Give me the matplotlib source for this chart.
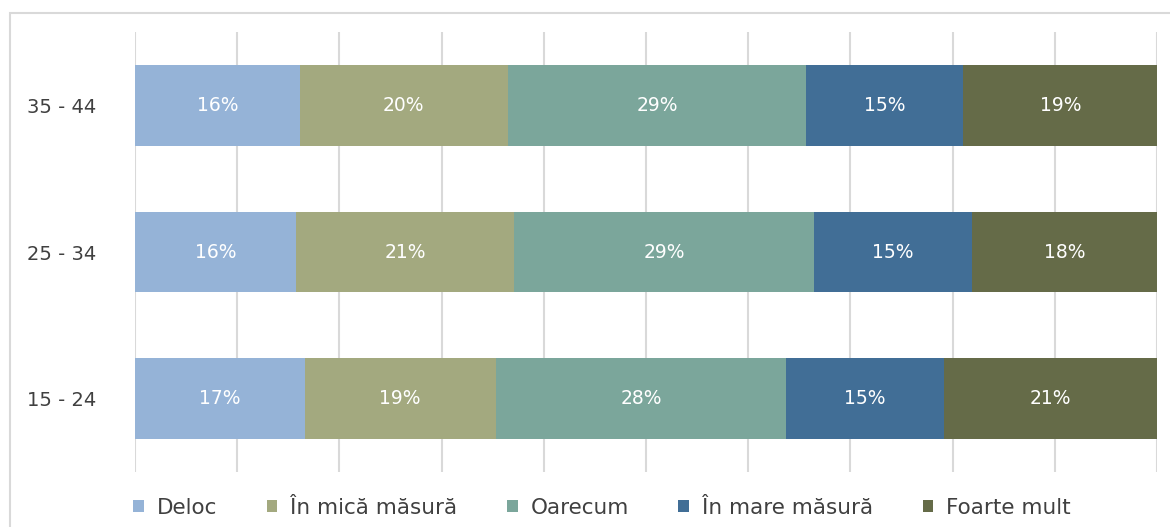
import numpy as np
import matplotlib
matplotlib.use("Agg")
import matplotlib.pyplot as plt
from matplotlib.patches import Rectangle

# grupe de varsta (de jos in sus) si raspunsuri, in procente
age_groups = ['15 - 24', '25 - 34', '35 - 44']
answers = ['Deloc', 'În mică măsură', 'Oarecum', 'În mare măsură', 'Foarte mult']

deloc = [16.6, 15.8, 16.1]
mica = [18.7, 21.3, 20.4]
oarecum = [28.4, 29.3, 29.2]
mare = [15.5, 15.5, 15.3]
foarte = [20.8, 18.2, 19.1]

labels_deloc = ['17%', '16%', '16%']
labels_mica = ['19%', '21%', '20%']
labels_oarecum = ['28%', '29%', '29%']
labels_mare = ['15%', '15%', '15%']
labels_foarte = ['21%', '18%', '19%']

colors = ['#95B3D7', '#A3A97F', '#7BA69B', '#416E96', '#656B48']

series = [deloc, mica, oarecum, mare, foarte]
series_labels = [labels_deloc, labels_mica, labels_oarecum, labels_mare, labels_foarte]

fig = plt.figure(figsize=(11.7, 5.27), dpi=100)
ax = fig.add_axes([135 / 1170, 1 - 472 / 527, (1157 - 135) / 1170, (472 - 32) / 527])

# cadru gri deschis in jurul graficului
fig.patches.append(Rectangle((10 / 1170, -0.1), 1.2, 1 - 13 / 527 + 0.1, transform=fig.transFigure,
                             fill=False, edgecolor='#D9D9D9', linewidth=1.5))

y = np.arange(len(age_groups))
left = np.zeros(len(age_groups))
for vals, labs, col, name in zip(series, series_labels, colors, answers):
    bars = ax.barh(y, vals, left=left, height=0.55, color=col, label=name, zorder=3)
    for b, t in zip(bars, labs):
        ax.text(b.get_x() + b.get_width() / 2, b.get_y() + b.get_height() / 2, t,
                ha='center', va='center', color='white', fontsize=13.5, zorder=4)
    left += np.array(vals)

ax.set_xlim(0, 100)
ax.set_ylim(-0.5, 2.5)
ax.set_xticks(np.arange(0, 101, 10))
ax.set_xticklabels([])
ax.tick_params(axis='x', length=0)
ax.grid(axis='x', color='#D9D9D9', linewidth=1.5, zorder=0)
ax.set_yticks(y)
ax.set_yticklabels(age_groups, fontsize=14, color='#404040')
ax.tick_params(axis='y', length=0, pad=28)
for s in ax.spines.values():
    s.set_visible(False)

leg = fig.legend(loc='center', bbox_to_anchor=(602 / 1170, 1 - 508 / 527), ncol=5, frameon=False,
                 fontsize=15.5, handlelength=0.5, handleheight=0.5, handletextpad=0.6,
                 columnspacing=2.3, labelcolor='#404040')

fig.savefig('out.png', dpi=100)
